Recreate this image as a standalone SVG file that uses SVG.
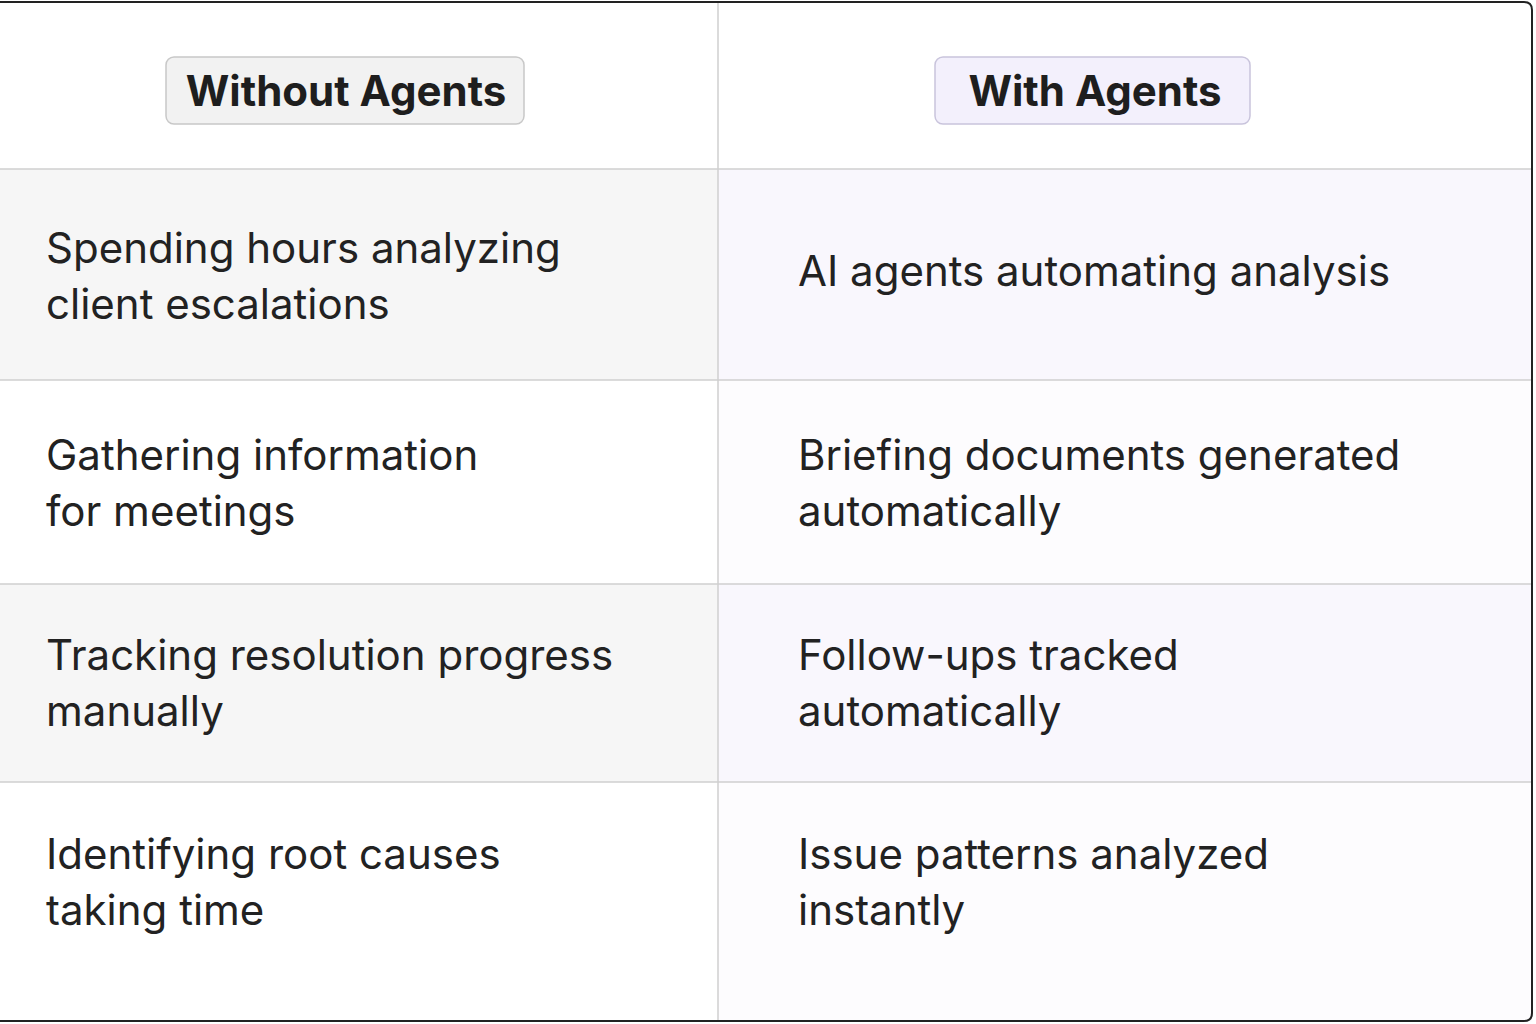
<svg xmlns="http://www.w3.org/2000/svg" width="1536" height="1024" viewBox="0 0 1536 1024">
<style>
.t{font-family:Inter,"Open Sans",sans-serif;font-size:42px;fill:#222}
.h{font-family:Inter,"Open Sans",sans-serif;font-size:42px;font-weight:700;fill:#1e1e1e}
.g{stroke:#cfcfcf;stroke-width:1.5;fill:none}
</style>
<rect width="1536" height="1024" fill="#fff"/>
<g id="rows">
<rect x="0" y="169" width="718" height="211" fill="#f6f6f6"/>
<rect x="718" y="169" width="814" height="211" fill="#f9f7fd"/>
<rect x="0" y="584" width="718" height="198" fill="#f6f6f6"/>
<rect x="718" y="584" width="814" height="198" fill="#f9f7fd"/>
<rect x="718" y="380" width="814" height="204" fill="#fdfcfe"/>
<rect x="718" y="782" width="814" height="240" fill="#fdfcfe"/>
</g>
<g id="connectors">
<line class="g" x1="0" y1="169" x2="1532" y2="169"/>
<line class="g" x1="0" y1="380" x2="1532" y2="380"/>
<line class="g" x1="0" y1="584" x2="1532" y2="584"/>
<line class="g" x1="0" y1="782" x2="1532" y2="782"/>
<line class="g" x1="718" y1="2" x2="718" y2="1021"/>
<path d="M0 2 H1524 Q1532 2 1532 10 V1013 Q1532 1021 1524 1021 H0" fill="none" stroke="#222" stroke-width="2"/>
</g>
<g id="hdr-left"><rect x="166" y="57" width="358" height="67" rx="8" fill="#f2f2f2" stroke="#c8c8c8" stroke-width="1.5"/><text class="h" x="346" y="106" text-anchor="middle">Without Agents</text></g>
<g id="hdr-right"><rect x="935" y="57" width="315" height="67" rx="8" fill="#f3f0fc" stroke="#c9c4dc" stroke-width="1.5"/><text class="h" x="1095" y="106" text-anchor="middle">With Agents</text></g>
<g id="r1l"><text class="t" x="46" y="263">Spending hours analyzing</text><text class="t" x="46" y="319">client escalations</text></g>
<g id="r1r"><text class="t" x="798" y="286">AI agents automating analysis</text></g>
<g id="r2l"><text class="t" x="46" y="470">Gathering information</text><text class="t" x="46" y="526">for meetings</text></g>
<g id="r2r"><text class="t" x="798" y="470">Briefing documents generated</text><text class="t" x="798" y="526">automatically</text></g>
<g id="r3l"><text class="t" x="46" y="670">Tracking resolution progress</text><text class="t" x="46" y="726">manually</text></g>
<g id="r3r"><text class="t" x="798" y="670">Follow-ups tracked</text><text class="t" x="798" y="726">automatically</text></g>
<g id="r4l"><text class="t" x="46" y="869">Identifying root causes</text><text class="t" x="46" y="925">taking time</text></g>
<g id="r4r"><text class="t" x="798" y="869">Issue patterns analyzed</text><text class="t" x="798" y="925">instantly</text></g>
</svg>
